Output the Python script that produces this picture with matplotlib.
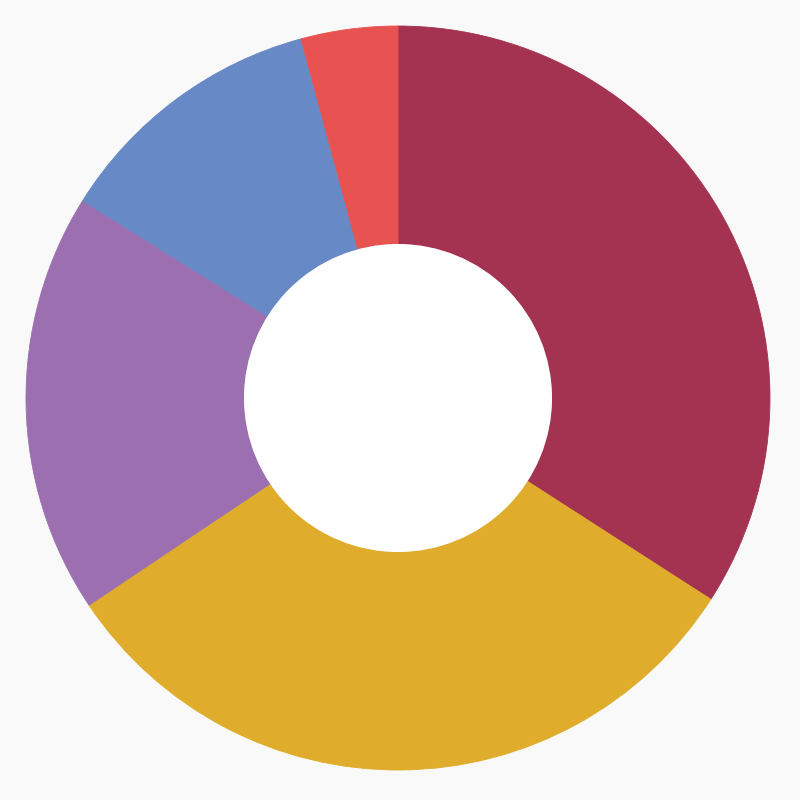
import matplotlib.pyplot as plt
from matplotlib.patches import Circle

# Slice shares, clockwise from 12 o'clock
labels = ['A', 'B', 'C', 'D', 'E']
values = [34.1, 31.5, 18.3, 11.9, 4.2]
colors = ['#a43352', '#dfad2b', '#9c70b0', '#6789c5', '#e85352']

outer_r = 372 / 372
inner_r = 154 / 372

fig = plt.figure(figsize=(8, 8), dpi=100, facecolor='#f9f9f9')
ax = fig.add_axes([0, 0, 1, 1])
ax.set_facecolor('#f9f9f9')

wedges, _ = ax.pie(values, colors=colors, startangle=90, counterclock=False,
                   radius=outer_r,
                   wedgeprops=dict(width=outer_r - inner_r, linewidth=0.6,
                                   antialiased=True))
for w, c in zip(wedges, colors):
    w.set_edgecolor(c)

# white hole in the middle
ax.add_patch(Circle((0, 0), inner_r, facecolor='white', edgecolor='none', zorder=3))

ax.set_xlim(-398 / 372, 402 / 372)
ax.set_ylim(-402 / 372, 398 / 372)
ax.set_aspect('equal')
ax.axis('off')

fig.savefig('out.png', dpi=100, facecolor='#f9f9f9')
